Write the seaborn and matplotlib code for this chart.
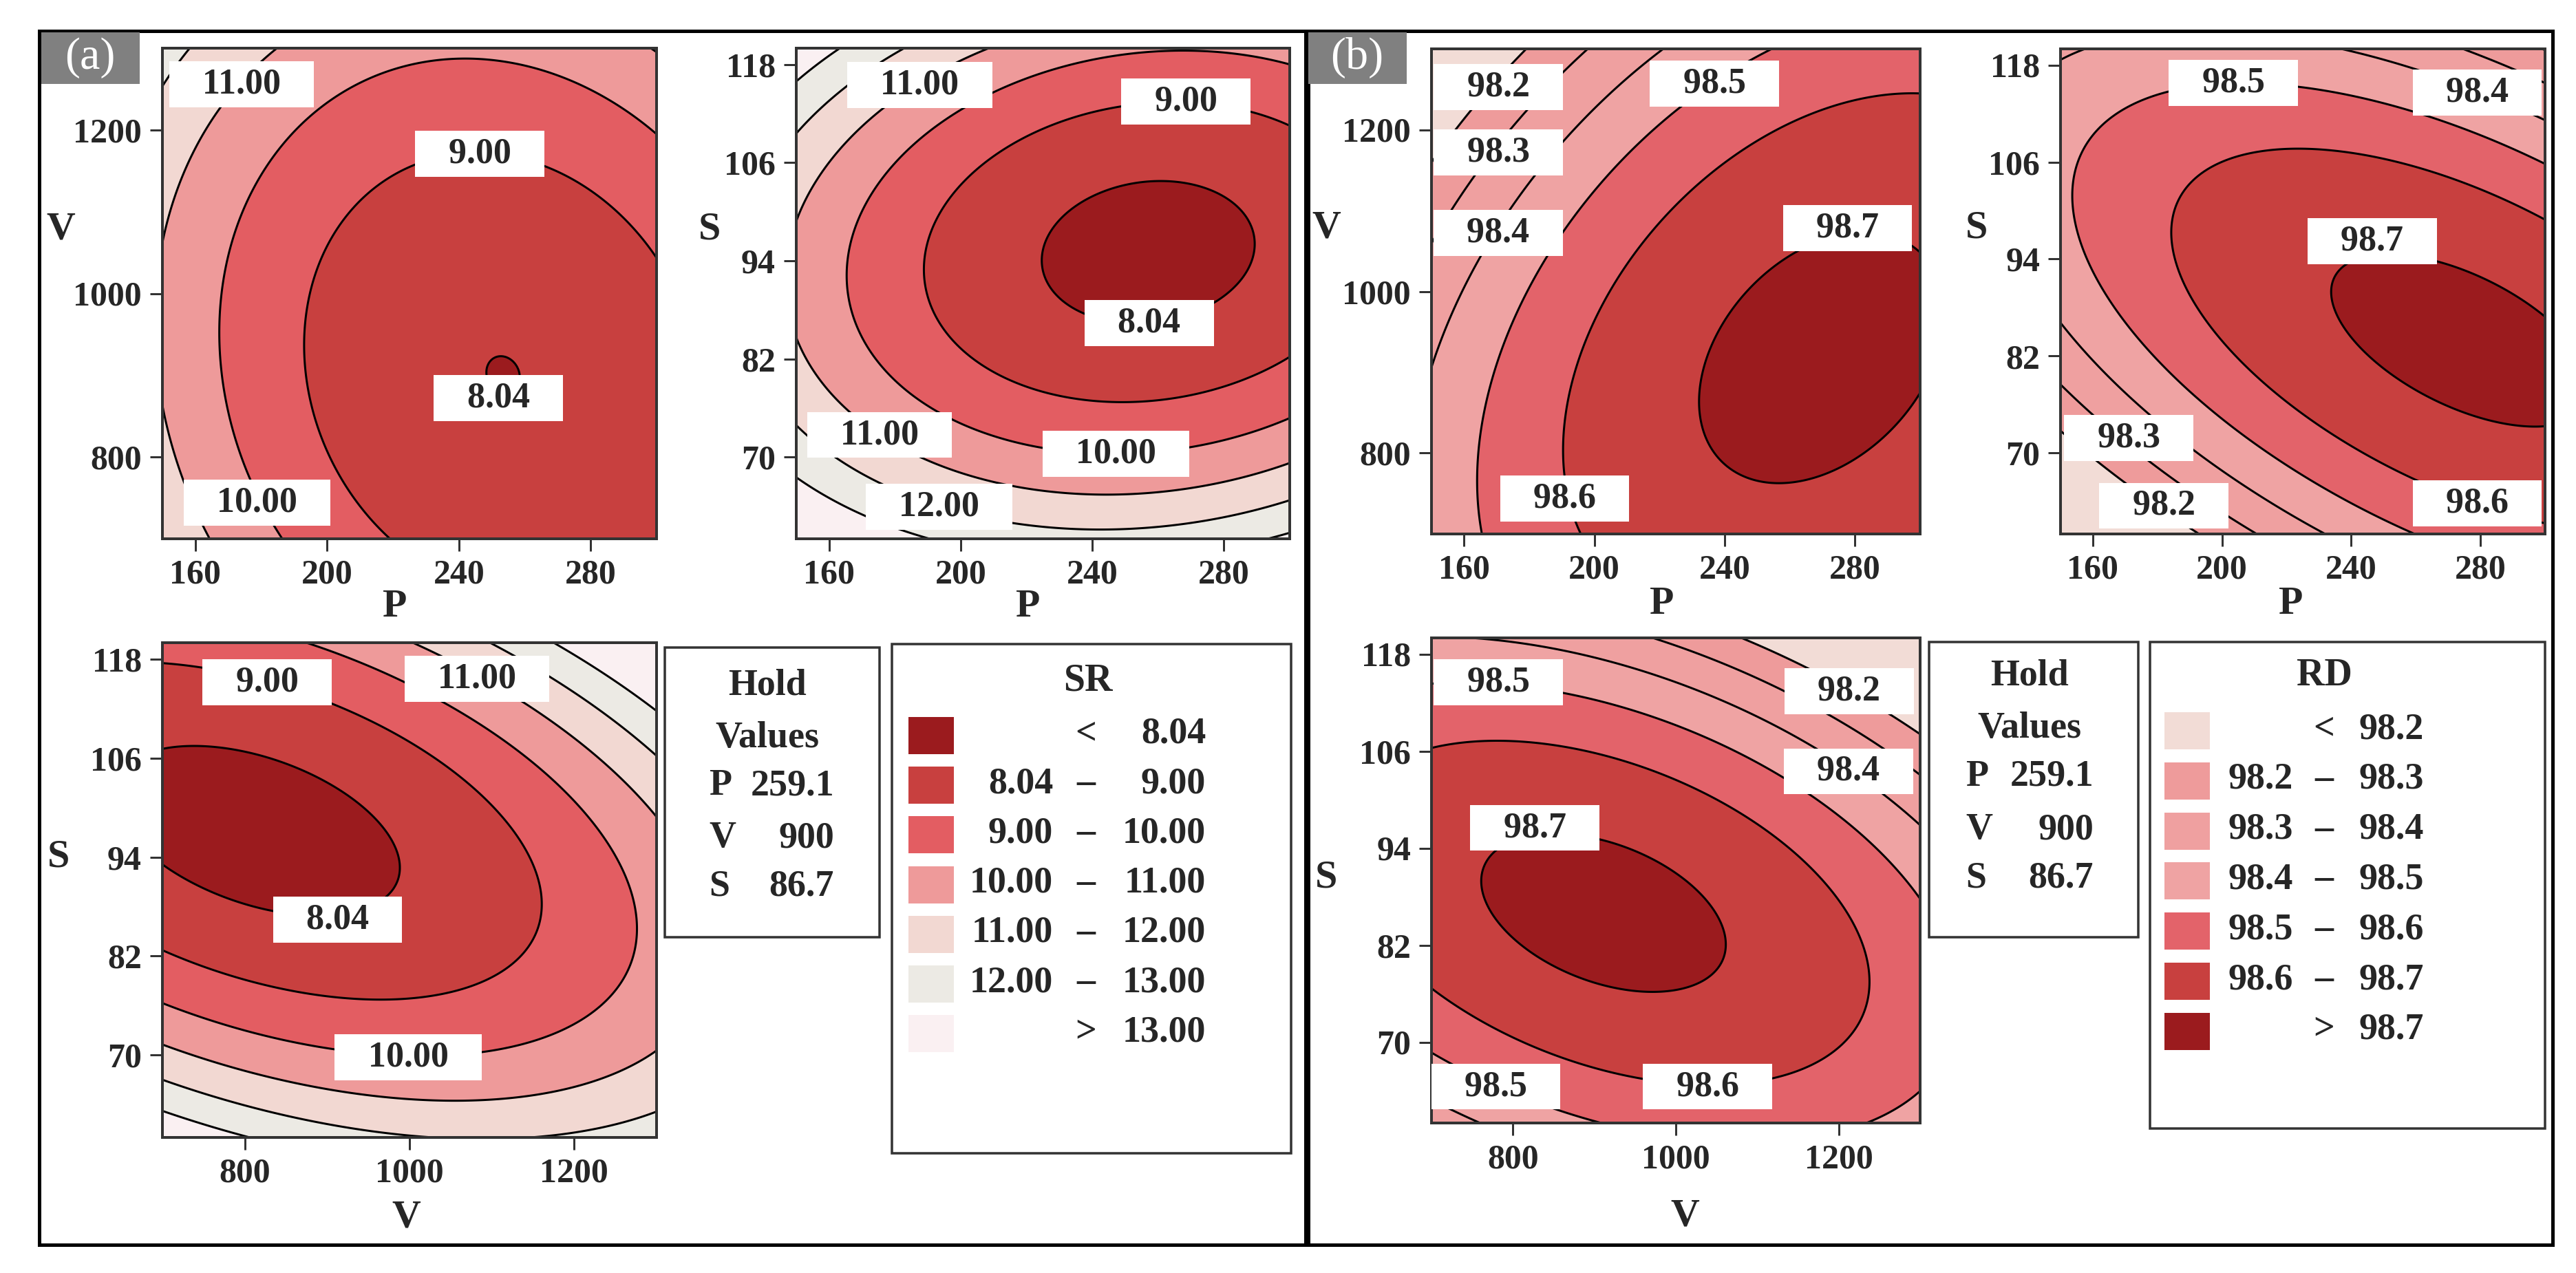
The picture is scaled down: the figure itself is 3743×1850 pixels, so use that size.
import numpy as np
import matplotlib
matplotlib.use("Agg")
import matplotlib.pyplot as plt
from matplotlib.patches import Rectangle
import seaborn as sns

W, H, DPI = 3743, 1850, 100
PT = 72.0 / DPI

# ─── Factors and hold values ──────────────────────────────────────────────
P_RANGE = (150, 300)
V_RANGE = (700, 1300)
S_RANGE = (60, 120)
P_TICKS = [160, 200, 240, 280]
V_TICKS = [800, 1000, 1200]
S_TICKS = [70, 82, 94, 106, 118]
HOLD_NAMES = ["P", "V", "S"]
HOLD_VALUES = ["259.1", "900", "86.7"]

# ─── Contour levels and colours ──────────────────────────────────────────
SR_LEVELS = [8.04, 9.00, 10.00, 11.00, 12.00, 13.00]
RD_LEVELS = [98.2, 98.3, 98.4, 98.5, 98.6, 98.7]
SR_COLORS = ["#9b1b1e", "#c8403f", "#e35d62", "#ee9a9a", "#f2d8d2", "#eceae4", "#faf0f2"]
RD_COLORS = ["#f2dcd6", "#ee9b9b", "#efa0a0", "#efa3a3", "#e3636a", "#c8403f", "#9b1b1e"]

# ─── Response surfaces (coded units: b0, x, y, x^2, y^2, xy) ─────────────
SR_PV_COEF = [8.338, -1.030, 0.662, 1.518, 1.205, 0.362]
SR_PS_COEF = [8.095, -1.208, -0.909, 1.519, 3.361, -0.522]
SR_VS_COEF = [8.107, 1.053, -0.547, 1.187, 3.402, 1.747]
RD_PV_COEF = [98.6585, 0.1809, -0.1207, -0.1311, -0.1236, 0.0889]
RD_PS_COEF = [98.6873, 0.1234, 0.0243, -0.1277, -0.2935, -0.2180]
RD_VS_COEF = [98.7041, -0.0964, -0.1266, -0.1275, -0.3004, -0.1570]

# ─── Contour label placements (text, x, y in data units) ─────────────────
SR_PV_LABELS = [("11.00", 174, 1256), ("9.00", 246.3, 1171), ("8.04", 252, 872), ("10.00", 178.7, 744)]
SR_PS_LABELS = [("11.00", 187.5, 115.5), ("9.00", 268.4, 113.5), ("8.04", 257.3, 86.4),
                ("11.00", 175.3, 72.7), ("10.00", 247.2, 70.4), ("12.00", 193.4, 63.9)]
SR_VS_LABELS = [("9.00", 827, 115.2), ("11.00", 1082, 115.6), ("8.04", 912.7, 86.4), ("10.00", 998.5, 69.7)]
RD_PV_LABELS = [("98.2", 170.5, 1252.7), ("98.3", 170.5, 1172), ("98.4", 170.5, 1072.6),
                ("98.5", 236.9, 1257), ("98.7", 277.7, 1078.6), ("98.6", 190.9, 744)]
RD_PS_LABELS = [("98.5", 203.5, 115.8), ("98.4", 279, 114.6), ("98.7", 246.5, 96.2),
                ("98.3", 171.1, 71.9), ("98.2", 182, 63.5), ("98.6", 279, 63.8)]
RD_VS_LABELS = [("98.5", 782, 114.5), ("98.2", 1212.7, 113.4), ("98.4", 1212, 103.5),
                ("98.7", 827, 96.5), ("98.5", 779, 64.5), ("98.6", 1039, 64.5)]

RANGES = {"P": P_RANGE, "V": V_RANGE, "S": S_RANGE}
TICKS = {"P": P_TICKS, "V": V_TICKS, "S": S_TICKS}

# panel layout in pixels: (left, top, right, bottom), x-label pos, y-label pos
PANELS = [
    ("P", "V", (236, 70, 954, 783), SR_PV_COEF, SR_LEVELS, SR_COLORS, SR_PV_LABELS, (574, 882), (88, 333)),
    ("P", "S", (1157, 70, 1874, 783), SR_PS_COEF, SR_LEVELS, SR_COLORS, SR_PS_LABELS, (1494, 882), (1031, 333)),
    ("V", "S", (236, 934, 954, 1653), SR_VS_COEF, SR_LEVELS, SR_COLORS, SR_VS_LABELS, (590, 1770), (85, 1245)),
    ("P", "V", (2080, 71, 2790, 776), RD_PV_COEF, RD_LEVELS, RD_COLORS, RD_PV_LABELS, (2415, 878), (1927, 332)),
    ("P", "S", (2994, 71, 3698, 776), RD_PS_COEF, RD_LEVELS, RD_COLORS, RD_PS_LABELS, (3329, 878), (2872, 332)),
    ("V", "S", (2080, 927, 2790, 1632), RD_VS_COEF, RD_LEVELS, RD_COLORS, RD_VS_LABELS, (2448, 1767), (1927, 1276)),
]

sns.set_theme(style="white")
plt.rcParams["font.family"] = ["Liberation Serif", "DejaVu Serif"]
plt.rcParams["font.weight"] = "bold"

fig = plt.figure(figsize=(W / DPI, H / DPI), dpi=DPI)
ov = fig.add_axes([0, 0, 1, 1], zorder=0)
ov.set_xlim(0, W)
ov.set_ylim(H, 0)
ov.axis("off")


def coded(v, rng):
    return (v - (rng[0] + rng[1]) / 2) / ((rng[1] - rng[0]) / 2)


# ─── Contour panels ──────────────────────────────────────────────────────
for xv, yv, (l, t, r, b), c, levels, colors, labels, xlab, ylab in PANELS:
    ax = fig.add_axes([l / W, 1 - b / H, (r - l) / W, (b - t) / H], zorder=2)
    xr, yr = RANGES[xv], RANGES[yv]
    X, Y = np.meshgrid(np.linspace(*xr, 301), np.linspace(*yr, 301))
    u, w = coded(X, xr), coded(Y, yr)
    Z = c[0] + c[1] * u + c[2] * w + c[3] * u ** 2 + c[4] * w ** 2 + c[5] * u * w
    lo = min(Z.min(), levels[0]) - 1
    hi = max(Z.max(), levels[-1]) + 1
    ax.contourf(X, Y, Z, levels=[lo] + levels + [hi], colors=sns.color_palette(colors))
    ax.contour(X, Y, Z, levels=levels, colors="black", linewidths=3 * PT)
    for txt, lx, ly in labels:
        ax.text(lx, ly, "   " + txt + "   ", ha="center", va="center", fontsize=52 * PT,
                fontweight="bold", zorder=5,
                bbox=dict(boxstyle="square,pad=0.18", fc="white", ec="none"))
    ax.set_xlim(*xr)
    ax.set_ylim(*yr)
    ax.set_xticks(TICKS[xv])
    ax.set_yticks(TICKS[yv])
    ax.tick_params(direction="out", length=18 * PT, width=3 * PT, labelsize=50 * PT,
                   pad=12 * PT, color="#333333", left=True, bottom=True)
    for lab in ax.get_xticklabels() + ax.get_yticklabels():
        lab.set_fontweight("bold")
    for sp in ax.spines.values():
        sp.set_linewidth(4 * PT)
        sp.set_color("#333333")
    ov.text(*xlab, xv, ha="center", va="center", fontsize=58 * PT, fontweight="bold")
    ov.text(*ylab, yv, ha="center", va="center", fontsize=58 * PT, fontweight="bold")

# ─── Outer frames and panel tags ─────────────────────────────────────────
for x0, x1, tag, tx0 in [(57, 1897, "(a)", 60), (1901, 3709, "(b)", 1901)]:
    ov.add_patch(Rectangle((x0, 45), x1 - x0, 1809 - 45, fill=False, ec="black", lw=5 * PT))
    ov.add_patch(Rectangle((tx0, 47), 143, 75, fc="#808080", ec="none"))
    ov.text(tx0 + 71, 84, tag, color="white", ha="center", va="center", fontsize=66 * PT,
            fontweight="normal")

# ─── Hold value boxes ────────────────────────────────────────────────────
for (bx0, by0, bx1, by1), cx, ys, xl, xr_ in [((966, 941, 1278, 1362), 1115, (997, 1073, 1142, 1218, 1288), 1030, 1212),
                                             ((2803, 933, 3107, 1362), 2949, (982, 1059, 1129, 1206, 1276), 2856, 3042)]:
    ov.add_patch(Rectangle((bx0, by0), bx1 - bx0, by1 - by0, fc="white", ec="#333333", lw=3.5 * PT))
    ov.text(cx, ys[0], "Hold", ha="center", va="center", fontsize=54 * PT)
    ov.text(cx, ys[1], "Values", ha="center", va="center", fontsize=54 * PT)
    for i in range(3):
        ov.text(xl, ys[2 + i], HOLD_NAMES[i], ha="left", va="center", fontsize=54 * PT)
        ov.text(xr_, ys[2 + i], HOLD_VALUES[i], ha="right", va="center", fontsize=54 * PT)


# ─── Legends ─────────────────────────────────────────────────────────────
def legend(box, title, tpos, levels, colors, fmt, px0, top0, pitch, c1, cmid, c2):
    bx0, by0, bx1, by1 = box
    ov.add_patch(Rectangle((bx0, by0), bx1 - bx0, by1 - by0, fc="white", ec="#333333", lw=3.5 * PT))
    ov.text(*tpos, title, ha="center", va="center", fontsize=56 * PT)
    n = len(colors)
    for i in range(n):
        yt = top0 + i * pitch
        ov.add_patch(Rectangle((px0, yt), 66, 54, fc=colors[i], ec="none"))
        yc = yt + 25
        if i == 0:
            ov.text(cmid, yc, "<", ha="center", va="center", fontsize=54 * PT)
            ov.text(c2, yc, fmt.format(levels[0]), ha="right", va="center", fontsize=54 * PT)
        elif i == n - 1:
            ov.text(cmid, yc, ">", ha="center", va="center", fontsize=54 * PT)
            ov.text(c2, yc, fmt.format(levels[-1]), ha="right", va="center", fontsize=54 * PT)
        else:
            ov.text(c1, yc, fmt.format(levels[i - 1]), ha="right", va="center", fontsize=54 * PT)
            ov.text(cmid, yc, "\u2013", ha="center", va="center", fontsize=54 * PT)
            ov.text(c2, yc, fmt.format(levels[i]), ha="right", va="center", fontsize=54 * PT)


legend((1296, 936, 1876, 1676), "SR", (1581, 990), SR_LEVELS, SR_COLORS, "{:.2f}",
       1320, 1042, 72.2, 1530, 1578, 1752)
legend((3124, 933, 3698, 1640), "RD", (3377, 982), RD_LEVELS, RD_COLORS, "{:.1f}",
       3145, 1035, 72.8, 3332, 3377, 3522)

fig.savefig("out.png", dpi=DPI)
